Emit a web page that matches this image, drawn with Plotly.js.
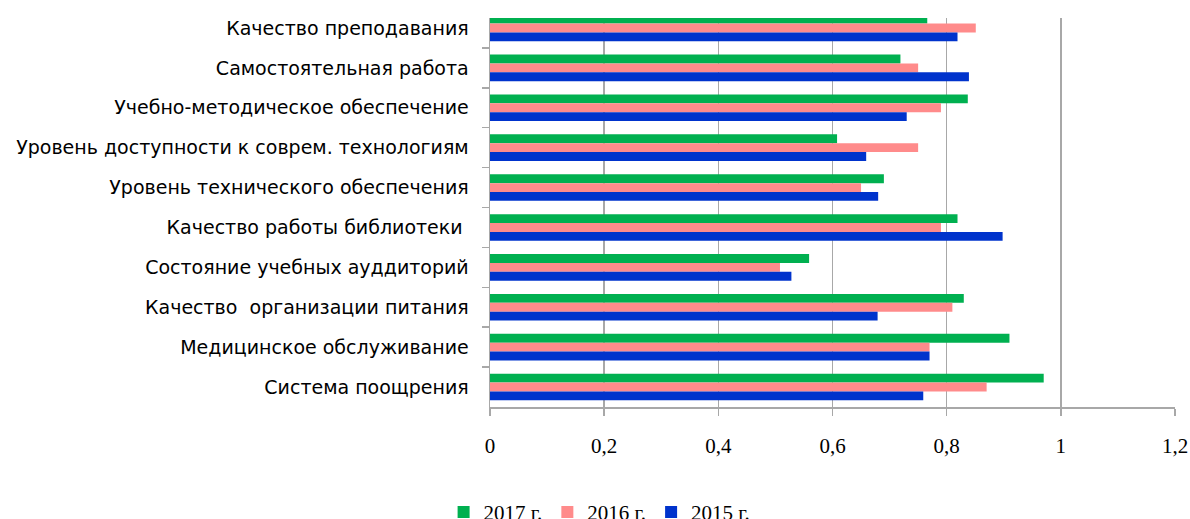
<!DOCTYPE html>
<html>
<head>
<meta charset="utf-8">
<script src="https://cdn.plot.ly/plotly-3.0.1.min.js"></script>
<style>html,body{margin:0;padding:0;background:#fff;}#chart{width:1190px;height:519px;}</style>
</head>
<body>
<div id="chart"></div>
<script>
const categories = [
  "Качество преподавания",
  "Самостоятельная работа",
  "Учебно-методическое обеспечение",
  "Уровень доступности к соврем. технологиям",
  "Уровень технического обеспечения",
  "Качество работы библиотеки ",
  "Состояние учебных ауддиторий",
  "Качество  организации питания",
  "Медицинское обслуживание",
  "Система поощрения"
];
const values2017 = [0.766, 0.719, 0.837, 0.608, 0.690, 0.819, 0.559, 0.830, 0.910, 0.970];
const values2016 = [0.851, 0.750, 0.790, 0.750, 0.650, 0.790, 0.508, 0.810, 0.770, 0.870];
const values2015 = [0.819, 0.839, 0.730, 0.659, 0.680, 0.898, 0.528, 0.679, 0.770, 0.759];
const seriesNames = ["2017 г.", "2016 г.", "2015 г."];
const xTickVals = [0, 0.2, 0.4, 0.6, 0.8, 1, 1.2];

const colors = ["#00B050", "#FF8B8B", "#0033CC"];
const allValues = [values2017, values2016, values2015];

const traces = allValues.map((vals, i) => ({
  type: "bar",
  orientation: "h",
  name: seriesNames[i],
  y: categories,
  x: vals,
  marker: {color: colors[i], line: {width: 0}},
  hoverinfo: "x+y"
}));

const layout = {
  width: 1190,
  height: 519,
  margin: {l: 490, r: 15, t: 18, b: 112, autoexpand: false},
  paper_bgcolor: "#ffffff",
  plot_bgcolor: "#ffffff",
  separators: ",.",
  barmode: "group",
  bargap: 0.333,
  bargroupgap: 0,
  showlegend: true,
  legend: {
    orientation: "h",
    x: 0.16,
    xanchor: "center",
    y: -0.218,
    yanchor: "top",
    font: {family: "Liberation Serif", size: 21, color: "#000"},
    itemwidth: 30,
    traceorder: "normal"
  },
  xaxis: {
    range: [0, 1.2],
    tickvals: xTickVals,
    tickformat: ".1~f",
    showgrid: true,
    gridcolor: "#a8a8a8",
    gridwidth: 1.5,
    zeroline: false,
    showline: true,
    linecolor: "#a8a8a8",
    linewidth: 1.5,
    ticks: "outside",
    ticklen: 7,
    tickwidth: 1.5,
    tickcolor: "#a8a8a8",
    ticklabelstandoff: 12,
    tickfont: {family: "Liberation Serif", size: 21, color: "#000"},
    fixedrange: true
  },
  yaxis: {
    type: "category",
    range: [9.5, -0.25],
    showgrid: false,
    zeroline: false,
    showline: true,
    linecolor: "#a8a8a8",
    linewidth: 1.5,
    ticks: "outside",
    tickson: "boundaries",
    ticklen: 7,
    tickwidth: 1.5,
    tickcolor: "#a8a8a8",
    ticklabelstandoff: 16,
    tickfont: {family: "DejaVu Sans", size: 19, color: "#000"},
    fixedrange: true
  }
};

Plotly.newPlot("chart", traces, layout, {displayModeBar: false, staticPlot: true});
</script>
</body>
</html>
